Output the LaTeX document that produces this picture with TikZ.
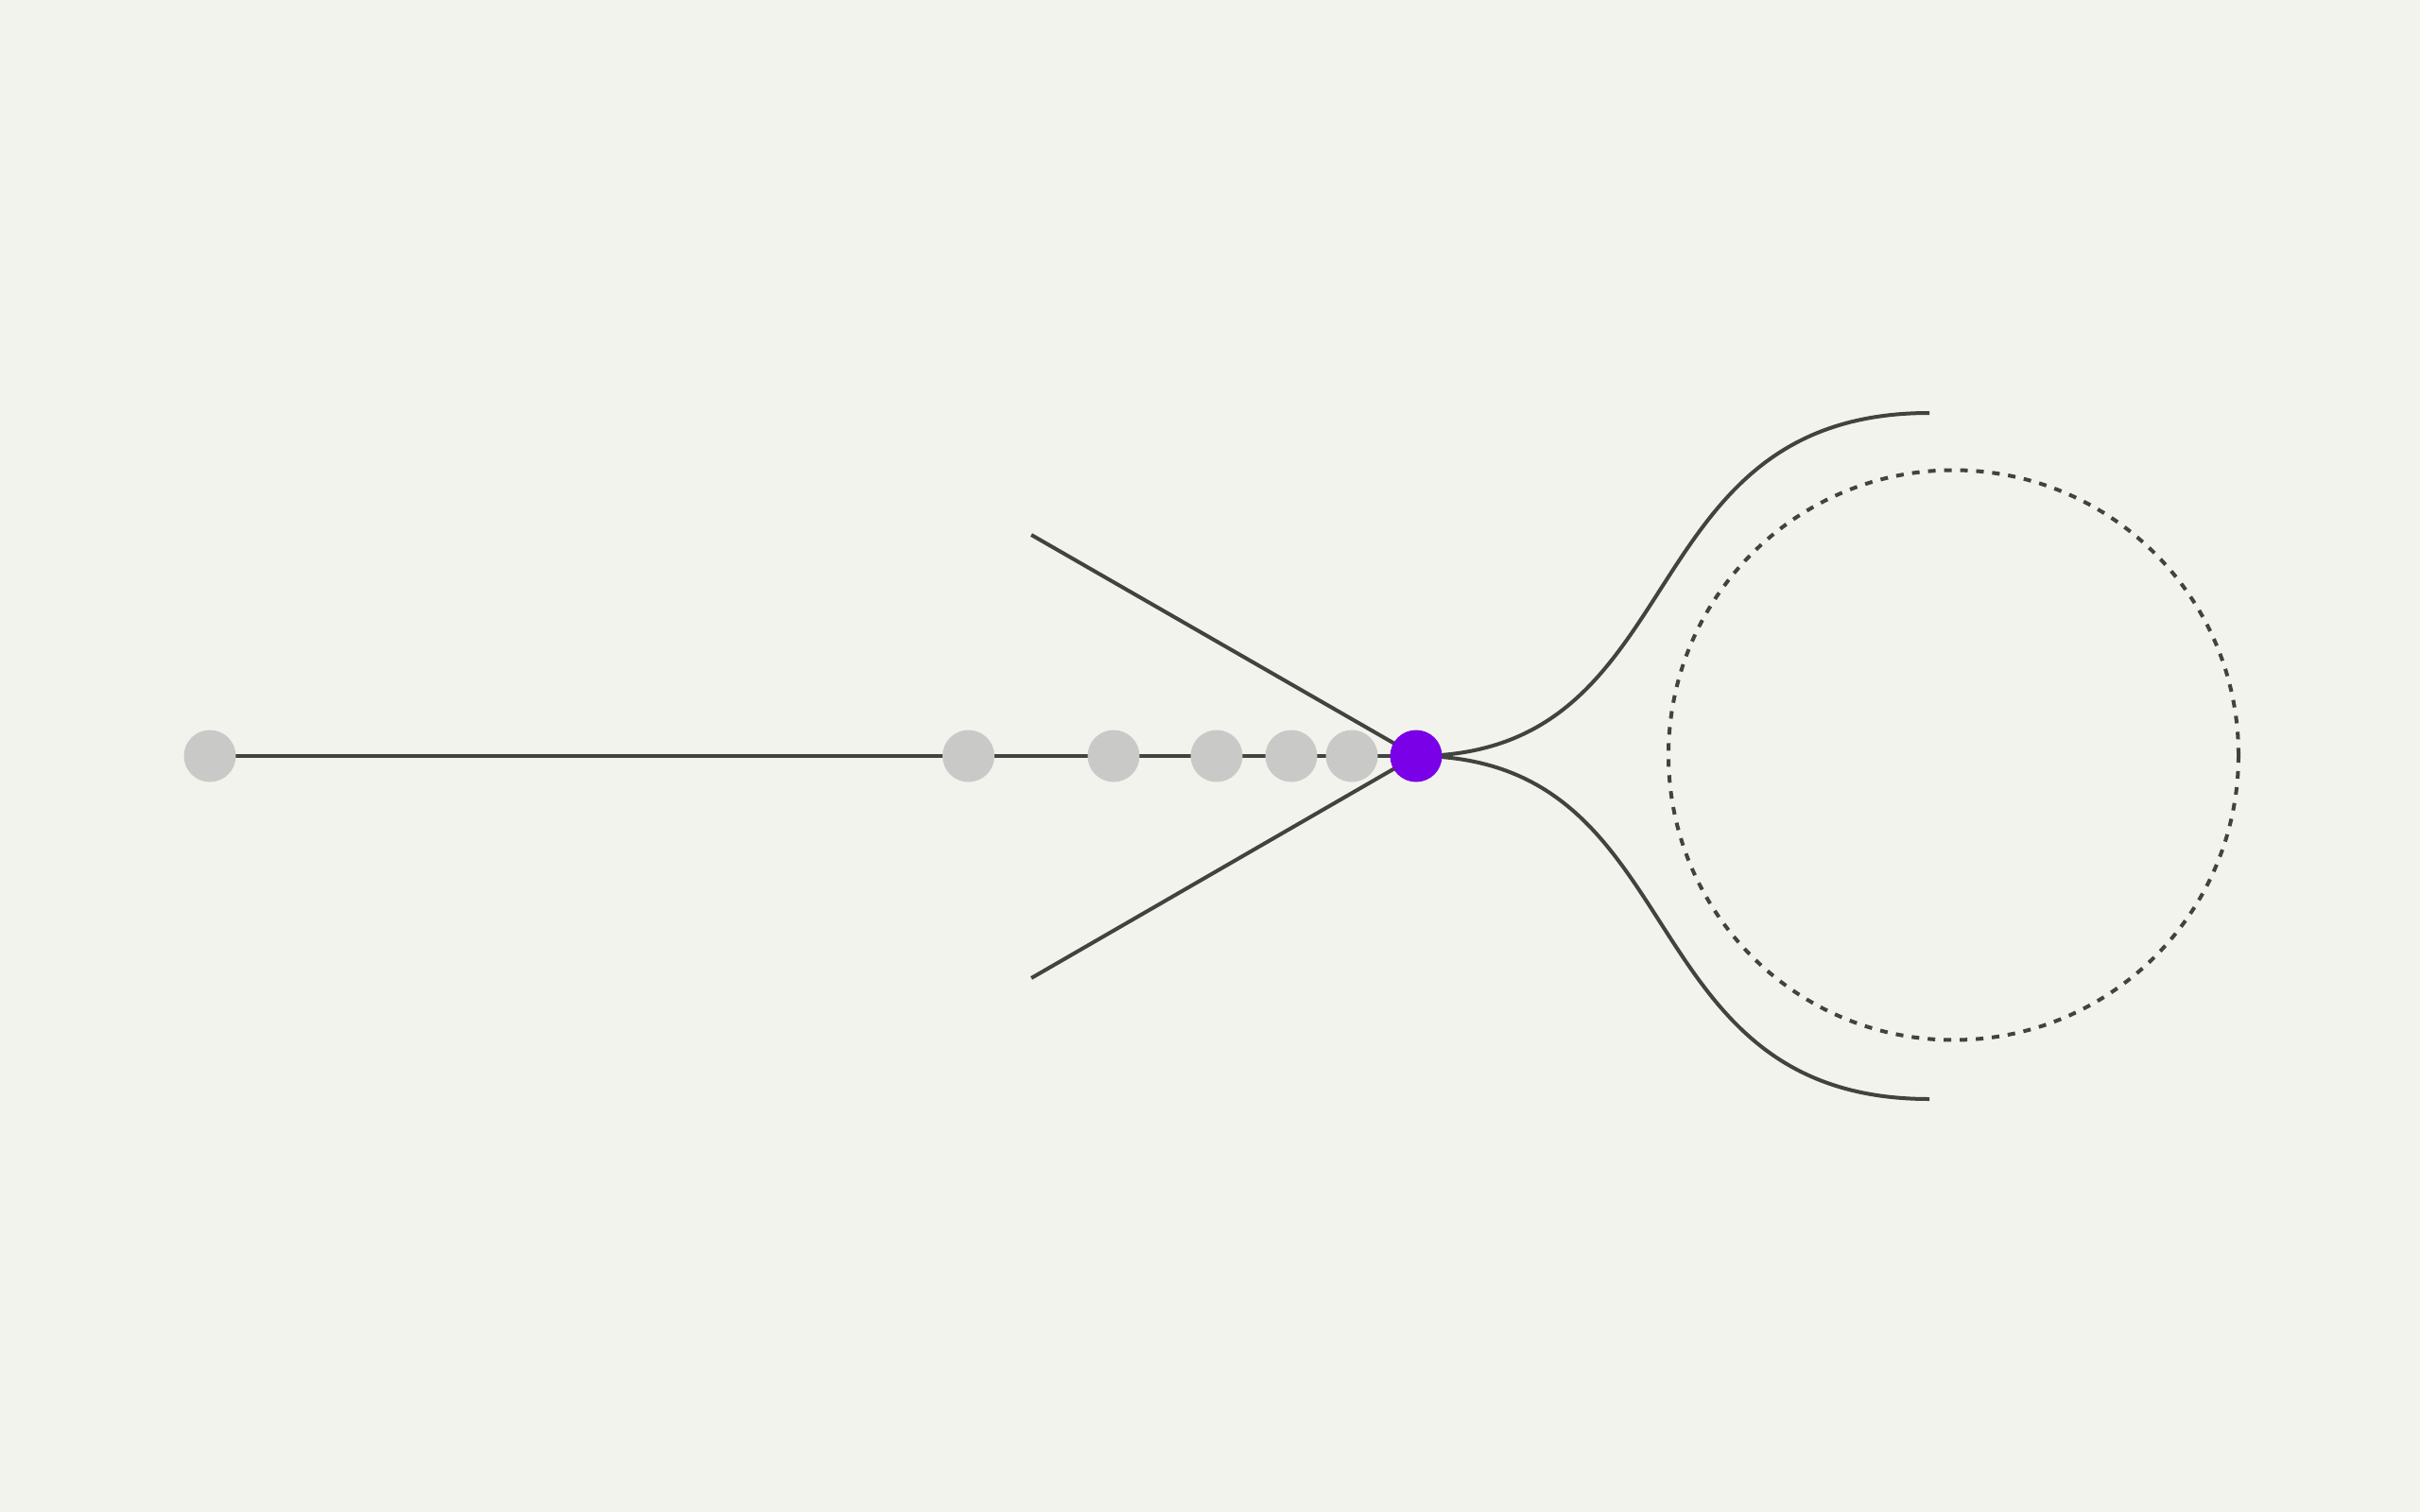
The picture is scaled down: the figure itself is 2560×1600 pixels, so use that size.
\documentclass[tikz,border=0pt]{standalone}
\definecolor{bgc}{RGB}{243,243,237}
\definecolor{ink}{RGB}{66,66,64}
\definecolor{dotgray}{RGB}{201,201,199}
\definecolor{vio}{RGB}{122,0,232}
\begin{document}
\begin{tikzpicture}[x=1pt,y=-1pt,
  wire/.style={draw=ink,line width=4pt},
  gdot/.style={circle,fill=dotgray,minimum size=55pt,inner sep=0pt,outer sep=0pt},
  pdot/.style={circle,fill=vio,minimum size=55pt,inner sep=0pt,outer sep=0pt},
  ring/.style={draw=ink,line width=4pt,dash pattern=on 8pt off 9pt}]
\fill[bgc] (0,0) rectangle (2560,1600);
\useasboundingbox (0,0) rectangle (2560,1600);
\coordinate (ua) at (1091,566);
\coordinate (la) at (1091,1035);
\coordinate (ue) at (2041,437);
\coordinate (le) at (2041,1163);
\coordinate (P) at (1498,800);
\coordinate (c0) at (222,800);
% main line and branches
\draw[wire] (c0) -- (P);
\draw[wire] (ua) -- (P);
\draw[wire] (la) -- (P);
\draw[wire] (P) .. controls (1795,800) and (1718,437) .. (ue);
\draw[wire] (P) .. controls (1795,800) and (1718,1163) .. (le);
% dashed circle
\draw[ring] (2066.5,799) circle[radius=301.5];
% dots
\node[gdot] (g0) at (c0) {};
\node[gdot] (g1) at (1024.5,800) {};
\node[gdot] (g2) at (1178,800) {};
\node[gdot] (g3) at (1287,800) {};
\node[gdot] (g4) at (1366,800) {};
\node[gdot] (g5) at (1430,800) {};
\node[pdot] (p) at (P) {};
\end{tikzpicture}
\end{document}
